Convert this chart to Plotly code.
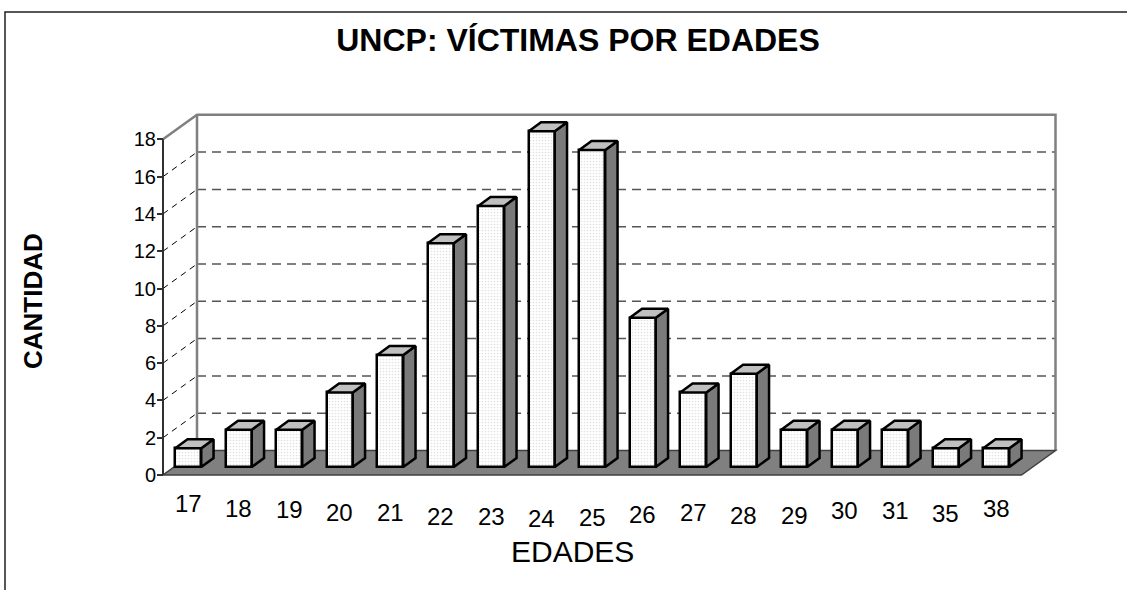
import plotly.graph_objects as go

# ---------------- data ----------------
EDADES = ["17", "18", "19", "20", "21", "22", "23", "24", "25",
          "26", "27", "28", "29", "30", "31", "35", "38"]
CANTIDAD = [1, 2, 2, 4, 6, 12, 14, 18, 17, 8, 4, 5, 2, 2, 2, 1, 1]
Y_TICKS = [0, 2, 4, 6, 8, 10, 12, 14, 16, 18]
TITLE = "UNCP: VÍCTIMAS POR EDADES"
X_TITLE = "EDADES"
Y_TITLE = "CANTIDAD"

# ---------------- layout / styling constants ----------------
W, H = 1127, 590
ML, MR, MT, MB = 157, 60, 100, 109
PW, PH = W - ML - MR, H - MT - MB
PX_U = 50.5          # pixels per category
PX_V = 18.65         # pixels per unit of value
ZERO_PX = 475        # pixel row of value 0 on the front plane
X_MIN = -0.5 - 6 / PX_U
X_MAX = X_MIN + PW / PX_U
Y_MIN = -((H - MB) - ZERO_PX) / PX_V
Y_MAX = Y_MIN + PH / PX_V

DX, DY = 34 / PX_U, 24.5 / PX_V          # full depth of the 3-D box
BW = 26 / PX_U                            # bar front width
B0 = 8 / PX_V                             # bar base lift (depth position)
BDX, BDY = 12.3 / PX_U, 9 / PX_V          # bar depth
LABEL_DROP = [28, 33, 34, 37, 37, 41, 41, 43, 42, 39, 37, 40, 40, 35, 35, 38, 33]

FONT = "Liberation Sans, Arial, sans-serif"
GRAY = "#808080"
TOP = "#c0c0c0"
SIDE = "#7a7a7a"

pos = list(range(len(EDADES)))
YMAX_AX = Y_TICKS[-1]
u0, u1 = -0.5, len(EDADES) - 0.5

fig = go.Figure()

# front faces of the bars
fig.add_trace(go.Bar(
    x=pos, y=CANTIDAD, base=[B0] * len(pos), width=BW,
    marker=dict(color="white", line=dict(color="black", width=2.5),
                pattern=dict(shape=".", fgcolor="#c4c4c4", bgcolor="white",
                             size=3, solidity=0.25)),
    hoverinfo="skip", showlegend=False))

# top and side faces
tx, ty, sx, sy = [], [], [], []
for p, v in zip(pos, CANTIDAD):
    l, r = p - BW / 2, p + BW / 2
    t = B0 + v
    tx += [l, r, r + BDX, l + BDX, l, None]
    ty += [t, t, t + BDY, t + BDY, t, None]
    sx += [r, r, r + BDX, r + BDX, r, None]
    sy += [B0, t, t + BDY, B0 + BDY, B0, None]
fig.add_trace(go.Scatter(x=sx, y=sy, mode="lines", fill="toself", fillcolor=SIDE,
                         line=dict(color="black", width=2.5), hoverinfo="skip",
                         showlegend=False))
fig.add_trace(go.Scatter(x=tx, y=ty, mode="lines", fill="toself", fillcolor=TOP,
                         line=dict(color="black", width=2.5), hoverinfo="skip",
                         showlegend=False))

shapes = []
# gridlines (side wall diagonals + back wall)
for v in Y_TICKS[1:-1]:
    shapes.append(dict(type="line", xref="x", yref="y", layer="below",
                       x0=u0, y0=v, x1=u0 + DX, y1=v + DY,
                       line=dict(color="black", width=1, dash="6px,5px")))
    shapes.append(dict(type="line", xref="x", yref="y", layer="below",
                       x0=u0 + DX, y0=v + DY, x1=u1 + DX, y1=v + DY,
                       line=dict(color="#555555", width=1.5, dash="9px,6px")))
# wall edges
shapes.append(dict(type="path", xref="x", yref="y", layer="below",
                   path=f"M{u0},{YMAX_AX} L{u0+DX},{YMAX_AX+DY} L{u1+DX},{YMAX_AX+DY} L{u1+DX},{DY}",
                   line=dict(color=GRAY, width=2.5)))
shapes.append(dict(type="line", xref="x", yref="y", layer="below",
                   x0=u0 + DX, y0=DY, x1=u0 + DX, y1=YMAX_AX + DY,
                   line=dict(color=GRAY, width=2.5)))
# floor
shapes.append(dict(type="path", xref="x", yref="y", layer="below",
                   path=f"M{u0},0 L{u1},0 L{u1+DX},{DY} L{u0+DX},{DY} Z",
                   fillcolor=GRAY, line=dict(color="#404040", width=1.5)))
# value axis line
shapes.append(dict(type="line", xref="x", yref="y", layer="above",
                   x0=u0, y0=0, x1=u0, y1=YMAX_AX,
                   line=dict(color="#303030", width=2)))
# outer chart border
shapes.append(dict(type="rect", xref="paper", yref="paper", layer="above",
                   x0=(5 - ML) / PW, x1=(W + 20 - ML) / PW,
                   y0=((H - MB) - (H + 20)) / PH, y1=((H - MB) - 12) / PH,
                   line=dict(color="#202020", width=1.5)))

annotations = []
for p, lab, d in zip(pos, EDADES, LABEL_DROP):
    annotations.append(dict(x=p, y=0, xref="x", yref="y", text=lab, showarrow=False,
                            yanchor="middle", yshift=-d,
                            font=dict(family=FONT, size=24, color="black")))
annotations.append(dict(x=(572 - ML) / PW, y=((H - MB) - 551) / PH, xref="paper", yref="paper",
                        text=X_TITLE, showarrow=False, xanchor="center", yanchor="middle",
                        font=dict(family=FONT, size=30, color="black")))
annotations.append(dict(x=(33 - ML) / PW, y=((H - MB) - 301) / PH, xref="paper", yref="paper",
                        text=f"<b>{Y_TITLE}</b>", showarrow=False, textangle=-90,
                        xanchor="center", yanchor="middle",
                        font=dict(family=FONT, size=26, color="black")))

fig.update_layout(
    width=W, height=H,
    margin=dict(l=ML, r=MR, t=MT, b=MB, pad=0),
    paper_bgcolor="white", plot_bgcolor="white",
    title=dict(text=f"<b>{TITLE}</b>", x=578 / W, y=1 - 40 / H,
               xanchor="center", yanchor="middle",
               font=dict(family=FONT, size=32, color="black")),
    xaxis=dict(range=[X_MIN, X_MAX], showgrid=False, zeroline=False,
               showticklabels=False, ticks="", showline=False, fixedrange=True),
    yaxis=dict(range=[Y_MIN, Y_MAX], showgrid=False, zeroline=False, showline=False,
               tickmode="array", tickvals=Y_TICKS, ticks="inside", ticklen=6,
               tickwidth=1.5, tickcolor="#303030",
               tickfont=dict(family=FONT, size=20, color="black"), fixedrange=True),
    shapes=shapes, annotations=annotations, showlegend=False, bargap=0,
)

fig.write_html("out.html", config={"displayModeBar": False},
               post_script="document.body.style.margin='0px';")
